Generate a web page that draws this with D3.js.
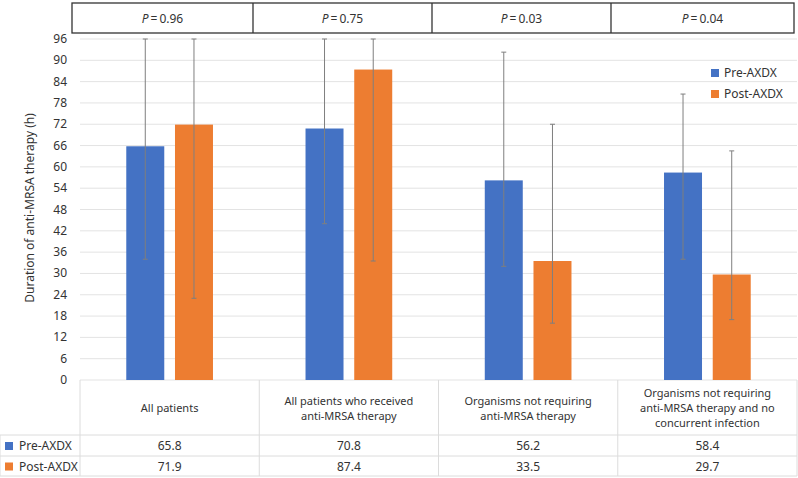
<!DOCTYPE html>
<html>
<head>
<meta charset="utf-8">
<script src="https://cdn.jsdelivr.net/npm/d3@7"></script>
<style>
body { margin: 0; background: #fff; }
text { font-family: "Noto Sans", "Open Sans", sans-serif; fill: #333; }
</style>
</head>
<body>
<div id="chart"></div>
<script>
var categories = ["All patients", "All patients who received anti-MRSA therapy",
	"Organisms not requiring anti-MRSA therapy",
	"Organisms not requiring anti-MRSA therapy and no concurrent infection"];
var catLines = [["All patients"], ["All patients who received", "anti-MRSA therapy"],
	["Organisms not requiring", "anti-MRSA therapy"],
	["Organisms not requiring", "anti-MRSA therapy and no", "concurrent infection"]];
var pValues = ["0.96", "0.75", "0.03", "0.04"];
var series = ["Pre-AXDX", "Post-AXDX"];
var preValues = [65.8, 70.8, 56.2, 58.4];
var postValues = [71.9, 87.4, 33.5, 29.7];
var preLow = [34, 44, 32, 34];
var preHigh = [96, 96, 92.3, 80.5];
var postLow = [23, 33.5, 16, 17];
var postHigh = [96, 96, 72, 64.5];
var yTicks = d3.range(0, 97, 6);
var colors = ["#4472C4", "#ED7D31"];

var width = 798, height = 478;
var svg = d3.select("#chart").append("svg")
	.attr("width", width).attr("height", height);

var x0 = d3.scaleBand().domain(categories).range([80, 797]);
var x1 = d3.scaleBand().domain(series).range([0, x0.bandwidth()]).paddingInner(0.22).paddingOuter(0.95);
var y = d3.scaleLinear().domain([0, 96]).range([380, 39]);

// grid
svg.append("g").selectAll("line").data(yTicks).enter().append("line")
	.attr("x1", 80).attr("x2", 797)
	.attr("y1", function(d) { return y(d); }).attr("y2", function(d) { return y(d); })
	.attr("stroke", "#e3e3e3");

// y axis labels
svg.append("g").selectAll("text").data(yTicks).enter().append("text")
	.attr("x", 67).attr("y", function(d) { return y(d) + 4; })
	.attr("text-anchor", "end").style("font-size", "12px")
	.text(function(d) { return d; });

svg.append("text")
	.attr("transform", "translate(34,208) rotate(-90)")
	.attr("text-anchor", "middle").style("font-size", "12px")
	.text("Duration of anti-MRSA therapy (h)");

// bars
var rows = categories.map(function(c, i) {
	return [
		{ cat: c, s: series[0], v: preValues[i], lo: preLow[i], hi: preHigh[i], col: colors[0] },
		{ cat: c, s: series[1], v: postValues[i], lo: postLow[i], hi: postHigh[i], col: colors[1] }
	];
});
var groups = svg.append("g").selectAll("g").data(rows).enter().append("g")
	.attr("transform", function(d, i) { return "translate(" + x0(categories[i]) + ",0)"; });

groups.selectAll("rect").data(function(d) { return d; }).enter().append("rect")
	.attr("x", function(d) { return x1(d.s); })
	.attr("width", x1.bandwidth())
	.attr("y", function(d) { return y(d.v); })
	.attr("height", function(d) { return y(0) - y(d.v); })
	.attr("fill", function(d) { return d.col; });

// error bars
var eb = groups.selectAll("g.err").data(function(d) { return d; }).enter().append("g")
	.attr("class", "err")
	.attr("stroke", "#7f7f7f").attr("stroke-width", 1);
eb.append("line")
	.attr("x1", function(d) { return x1(d.s) + x1.bandwidth() / 2; })
	.attr("x2", function(d) { return x1(d.s) + x1.bandwidth() / 2; })
	.attr("y1", function(d) { return y(d.lo); })
	.attr("y2", function(d) { return y(d.hi); });
["lo", "hi"].forEach(function(k) {
	eb.append("line")
		.attr("x1", function(d) { return x1(d.s) + x1.bandwidth() / 2 - 2.5; })
		.attr("x2", function(d) { return x1(d.s) + x1.bandwidth() / 2 + 2.5; })
		.attr("y1", function(d) { return y(d[k]); })
		.attr("y2", function(d) { return y(d[k]); });
});

// legend
var leg = svg.append("g").selectAll("g").data(series).enter().append("g")
	.attr("transform", function(d, i) { return "translate(711," + (73 + i * 21) + ")"; });
leg.append("rect").attr("x", 0).attr("y", -4).attr("width", 8).attr("height", 8)
	.attr("fill", function(d, i) { return colors[i]; });
leg.append("text").attr("x", 13).attr("y", 4).style("font-size", "12px")
	.text(function(d) { return d; });

// P value row
var pEdges = [72, 253, 432, 611, 794];
svg.append("rect").attr("x", 72).attr("y", 3).attr("width", 722).attr("height", 30)
	.attr("fill", "none").attr("stroke", "#333").attr("stroke-width", 1.3);
svg.append("g").selectAll("line").data(pEdges.slice(1, 4)).enter().append("line")
	.attr("x1", function(d) { return d; }).attr("x2", function(d) { return d; })
	.attr("y1", 3).attr("y2", 33).attr("stroke", "#333").attr("stroke-width", 1.3);
var pt = svg.append("g").selectAll("text").data(pValues).enter().append("text")
	.attr("x", function(d, i) { return (pEdges[i] + pEdges[i + 1]) / 2; })
	.attr("y", 23).attr("text-anchor", "middle").style("font-size", "12px");
pt.append("tspan").style("font-style", "italic").text("P");
pt.append("tspan").text(function(d) { return "\u2009=\u20090." + d.slice(2); });

// data table
var tableGrid = "#dcdcdc";
var colEdges = [80].concat(categories.map(function(c) { return x0(c) + x0.bandwidth(); }));
svg.append("g").selectAll("line").data(colEdges).enter().append("line")
	.attr("x1", function(d) { return d; }).attr("x2", function(d) { return d; })
	.attr("y1", 380).attr("y2", 476).attr("stroke", tableGrid);
svg.append("line").attr("x1", 0).attr("x2", 0).attr("y1", 435).attr("y2", 476).attr("stroke", tableGrid);
svg.append("g").selectAll("line").data([435, 456, 476]).enter().append("line")
	.attr("x1", 0).attr("x2", 797)
	.attr("y1", function(d) { return d; }).attr("y2", function(d) { return d; })
	.attr("stroke", tableGrid);

catLines.forEach(function(lines, i) {
	var cx = x0(categories[i]) + x0.bandwidth() / 2;
	svg.append("g").selectAll("text").data(lines).enter().append("text")
		.attr("x", cx)
		.attr("y", function(d, j) { return 412 - (lines.length - 1) * 7.5 + j * 15; })
		.attr("text-anchor", "middle").style("font-size", "11px")
		.text(function(d) { return d; });
});

[preValues, postValues].forEach(function(vals, r) {
	var yy = 450 + r * 20.5;
	svg.append("rect").attr("x", 5).attr("y", yy - 8).attr("width", 8).attr("height", 8)
		.attr("fill", colors[r]);
	svg.append("text").attr("x", 19).attr("y", yy).style("font-size", "12px").text(series[r]);
	svg.append("g").selectAll("text").data(vals).enter().append("text")
		.attr("x", function(d, i) { return x0(categories[i]) + x0.bandwidth() / 2; })
		.attr("y", yy).attr("text-anchor", "middle").style("font-size", "12px")
		.text(function(d) { return d.toFixed(1); });
});
</script>
</body>
</html>
